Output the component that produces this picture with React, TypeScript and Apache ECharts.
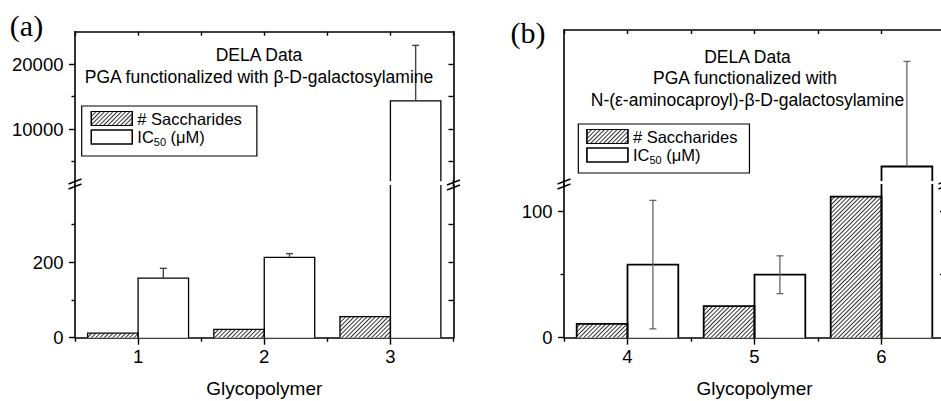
import React, { useEffect, useRef } from 'react';
import * as echarts from 'echarts';

// ---------- data ----------
const categoriesA = ['1', '2', '3'];
const categoriesB = ['4', '5', '6'];
const saccharidesA = [12, 22, 56];
const ic50A = [158, 213, 14350];
const ic50PlusA = [26, 10, 8550];
const ic50MinusA = [0, 0, 0];
const saccharidesB = [11, 25, 112];
const ic50B = [58, 50, 137];
const ic50PlusB = [51, 15, 87];
const ic50MinusB = [51, 15, 0];

// tick values
const labelsALow = [0, 200];
const minorALow = [100, 300];
const rightALow = [100, 200, 300];
const labelsAHigh = [10000, 20000];
const minorAHigh = [5000, 15000];
const rightAHigh = [5000, 10000, 15000, 20000];
const labelsBLow = [0, 100];
const minorBLow = [50];
const rightBLow = [50, 100];

// axis segment ranges
const rangeALow = [0, 405];
const rangeAHigh = [2000, 25000];
const rangeBLow = [0, 122];
const rangeBHigh = [125, 250];

const SACCH = '# Saccharides';
const IC50 = 'IC50 (μM)';
const FONT = 'Liberation Sans';

// ---------- helpers ----------
const black = '#000';

function catAxis(gridIndex: number, data: string[], position: string, kind: string) {
  const bottom = position === 'bottom';
  const main = kind === 'main';
  const ax: any = {
    type: 'category',
    gridIndex,
    data,
    position,
    boundaryGap: true,
    axisLine: { show: main, onZero: false, lineStyle: { color: black, width: 1.6 } },
    axisTick: {
      show: true,
      interval: 0,
      alignWithLabel: main,
      inside: !bottom,
      length: bottom && main ? 7 : 4,
      lineStyle: { color: black, width: 1.4 },
    },
    axisLabel: {
      show: bottom && main,
      interval: 0,
      color: black,
      fontSize: 18.5,
      fontFamily: FONT,
      margin: 9,
    },
    splitLine: { show: false },
    splitArea: { show: false },
  };
  if (bottom && main) {
    ax.name = 'Glycopolymer';
    ax.nameLocation = 'middle';
    ax.nameGap = 41;
    ax.nameTextStyle = { color: black, fontSize: 19, fontFamily: FONT };
  }
  return ax;
}

function valAxis(
  gridIndex: number,
  range: number[],
  position: string,
  line: boolean,
  ticks: number[] | null,
  tickLen: number,
  inside: boolean,
  labels: number[] | null
) {
  return {
    type: 'value',
    gridIndex,
    position,
    min: range[0],
    max: range[1],
    axisLine: { show: line, onZero: false, lineStyle: { color: black, width: 1.6 } },
    axisTick: ticks
      ? { show: true, customValues: ticks, inside, length: tickLen, lineStyle: { color: black, width: 1.4 } }
      : { show: false },
    axisLabel: labels
      ? {
          show: true,
          customValues: labels,
          formatter: (v: number) => String(v),
          color: black,
          fontSize: 18.5,
          fontFamily: FONT,
          margin: 11.5,
        }
      : { show: false },
    splitLine: { show: false },
    splitArea: { show: false },
  };
}

const hatchDecal = {
  symbol: 'rect',
  symbolSize: 1,
  dashArrayX: [1, 0],
  dashArrayY: [1, 2],
  rotation: -Math.PI / 4,
  color: '#333',
};
const noDecal = {
  symbol: 'rect',
  symbolSize: 1,
  dashArrayX: [1, 0],
  dashArrayY: [1, 3],
  color: 'rgba(0,0,0,0)',
};

// bar fill (no border; outline drawn by a custom series so that broken bars stay open)
function barSeries(name: string, data: number[], xi: number, yi: number, hatched: boolean) {
  return {
    type: 'bar',
    name,
    xAxisIndex: xi,
    yAxisIndex: yi,
    data,
    barGap: '0%',
    barCategoryGap: '20%',
    clip: true,
    silent: true,
    z: 2,
    itemStyle: {
      color: '#fff',
      borderWidth: 0,
      decal: hatched ? hatchDecal : noDecal,
    },
    emphasis: { disabled: true },
  };
}

function makeOutlineRender(slot: number, range: number[], lw: number) {
  return (params: any, api: any) => {
    const idx = api.value(0);
    const v = api.value(1);
    const lo = Math.max(Math.min(0, v), range[0]);
    const hi = Math.min(Math.max(0, v), range[1]);
    if (!(hi > lo)) return { type: 'group', children: [] };
    const band = api.size([1, 0])[0];
    const c = api.coord([idx, lo])[0];
    const x0 = c - band * 0.4 + slot * band * 0.4;
    const x1 = x0 + band * 0.4;
    const yLo = api.coord([idx, lo])[1];
    const yHi = api.coord([idx, hi])[1];
    const style = { stroke: black, lineWidth: lw, fill: 'none', lineJoin: 'miter' };
    if (v <= range[1]) {
      return {
        type: 'polyline',
        shape: { points: [[x0, yLo], [x0, yHi], [x1, yHi], [x1, yLo]] },
        style,
      };
    }
    return {
      type: 'group',
      children: [
        { type: 'line', shape: { x1: x0, y1: yLo, x2: x0, y2: yHi }, style },
        { type: 'line', shape: { x1: x1, y1: yLo, x2: x1, y2: yHi }, style },
      ],
    };
  };
}

function outlineSeries(slot: number, data: number[], xi: number, yi: number, range: number[], lw: number) {
  return {
    type: 'custom',
    xAxisIndex: xi,
    yAxisIndex: yi,
    silent: true,
    z: 3,
    encode: { x: 0, y: 1 },
    data: data.map((v, i) => [i, v]),
    renderItem: makeOutlineRender(slot, range, lw),
  };
}

function makeErrRender(range: number[], color: string, lw: number) {
  return (params: any, api: any) => {
    const idx = api.value(0);
    const v = api.value(1);
    const plus = api.value(2);
    const minus = api.value(3);
    const top = v + plus;
    const bot = v - minus;
    const lo = Math.max(bot, range[0]);
    const hi = Math.min(top, range[1]);
    if (!(hi > lo)) return { type: 'group', children: [] };
    const band = api.size([1, 0])[0];
    const x = api.coord([idx, v])[0] + band * 0.2;
    const yLo = api.coord([idx, lo])[1];
    const yHi = api.coord([idx, hi])[1];
    const cap = 3.5;
    const style = { stroke: color, lineWidth: lw };
    const children: any[] = [{ type: 'line', shape: { x1: x, y1: yLo, x2: x, y2: yHi }, style }];
    if (top <= range[1]) children.push({ type: 'line', shape: { x1: x - cap, y1: yHi, x2: x + cap, y2: yHi }, style });
    if (minus > 0 && bot >= range[0])
      children.push({ type: 'line', shape: { x1: x - cap, y1: yLo, x2: x + cap, y2: yLo }, style });
    return { type: 'group', children };
  };
}

function errSeries(xi: number, yi: number, vals: number[], plus: number[], minus: number[], range: number[], color: string, lw: number) {
  return {
    type: 'custom',
    xAxisIndex: xi,
    yAxisIndex: yi,
    silent: true,
    z: 5,
    encode: { x: 0, y: 1 },
    data: vals.map((v, i) => [i, v, plus[i], minus[i]]),
    renderItem: makeErrRender(range, color, lw),
  };
}

function txt(text: string, x: number, y: number, size: number, family = FONT) {
  return {
    type: 'text',
    x,
    y,
    z: 20,
    silent: true,
    style: {
      text,
      fill: black,
      fontSize: size,
      fontFamily: family,
      textAlign: 'center',
      textVerticalAlign: 'middle',
      align: 'center',
      verticalAlign: 'middle',
    },
  };
}

function ln(x1: number, y1: number, x2: number, y2: number, w = 1.6) {
  return { type: 'line', z: 30, silent: true, shape: { x1, y1, x2, y2 }, style: { stroke: black, lineWidth: w } };
}

function breakMarks(x: number, yc: number) {
  return [
    ln(x - 6.5, yc - 2.5 + 2.5, x + 6.5, yc - 2.5 - 2.5, 1.4),
    ln(x - 6.5, yc + 2.5 + 2.5, x + 6.5, yc + 2.5 - 2.5, 1.4),
  ];
}

function legendCfg(left: number, top: number, padding: number[]) {
  return {
    left,
    top,
    orient: 'vertical',
    itemWidth: 41,
    itemHeight: 14,
    itemGap: 0,
    padding,
    borderColor: black,
    borderWidth: 1.2,
    backgroundColor: '#fff',
    selectedMode: false,
    icon: 'rect',
    itemStyle: { borderColor: black, borderWidth: 1.2 },
    data: [SACCH, IC50],
    formatter: (name: string) => (name === IC50 ? '{n|IC}{s|50}{n| (μM)}' : '{n|' + name + '}'),
    textStyle: {
      color: black,
      fontSize: 16.5,
      fontFamily: FONT,
      rich: {
        n: { color: black, fontSize: 16.5, fontFamily: FONT, lineHeight: 20 },
        s: { color: black, fontSize: 11, fontFamily: FONT, lineHeight: 11, padding: [9, 0, 0, 0] },
      },
    },
  };
}

// ---------- layout ----------
const A = { left: 75, width: 378.5 };
const B = { left: 564, width: 381 };

const option: any = {
  animation: false,
  backgroundColor: '#fff',
  aria: { enabled: true, label: { enabled: false }, decal: { show: true } },
  grid: [
    { left: A.left, width: A.width, top: 185, height: 152.7, outerBoundsMode: 'none', containLabel: false },
    { left: A.left, width: A.width, top: 31.7, height: 149.5, outerBoundsMode: 'none', containLabel: false },
    { left: B.left, width: B.width, top: 184, height: 153.7, outerBoundsMode: 'none', containLabel: false },
    { left: B.left, width: B.width, top: 30, height: 151, outerBoundsMode: 'none', containLabel: false },
  ],
  xAxis: [
    catAxis(0, categoriesA, 'bottom', 'main'), // 0
    catAxis(0, categoriesA, 'bottom', 'minor'), // 1
    catAxis(1, categoriesA, 'top', 'main'), // 2
    catAxis(1, categoriesA, 'top', 'minor'), // 3
    catAxis(2, categoriesB, 'bottom', 'main'), // 4
    catAxis(2, categoriesB, 'bottom', 'minor'), // 5
    catAxis(3, categoriesB, 'top', 'main'), // 6
    catAxis(3, categoriesB, 'top', 'minor'), // 7
  ],
  yAxis: [
    valAxis(0, rangeALow, 'left', true, labelsALow, 6, false, labelsALow), // 0
    valAxis(0, rangeALow, 'left', false, minorALow, 3.5, false, null), // 1
    valAxis(0, rangeALow, 'right', true, rightALow, 5, true, null), // 2
    valAxis(1, rangeAHigh, 'left', true, labelsAHigh, 6, false, labelsAHigh), // 3
    valAxis(1, rangeAHigh, 'left', false, minorAHigh, 3.5, false, null), // 4
    valAxis(1, rangeAHigh, 'right', true, rightAHigh, 5, true, null), // 5
    valAxis(2, rangeBLow, 'left', true, labelsBLow, 6, false, labelsBLow), // 6
    valAxis(2, rangeBLow, 'left', false, minorBLow, 3.5, false, null), // 7
    valAxis(2, rangeBLow, 'right', true, rightBLow, 5, true, null), // 8
    valAxis(3, rangeBHigh, 'left', true, null, 0, false, null), // 9
    valAxis(3, rangeBHigh, 'right', true, null, 0, true, null), // 10
  ],
  legend: [legendCfg(81.7, 106, [4, 15, 9, 9]), legendCfg(578.3, 124, [4, 12, 8, 8])],
  series: [
    // panel (a), lower segment
    barSeries(SACCH, saccharidesA, 0, 0, true),
    barSeries(IC50, ic50A, 0, 0, false),
    outlineSeries(0, saccharidesA, 0, 0, rangeALow, 1.3),
    outlineSeries(1, ic50A, 0, 0, rangeALow, 1.3),
    errSeries(0, 0, ic50A, ic50PlusA, ic50MinusA, rangeALow, '#444', 1.4),
    // panel (a), upper segment
    barSeries(SACCH, saccharidesA, 2, 3, true),
    barSeries(IC50, ic50A, 2, 3, false),
    outlineSeries(0, saccharidesA, 2, 3, rangeAHigh, 1.3),
    outlineSeries(1, ic50A, 2, 3, rangeAHigh, 1.3),
    errSeries(2, 3, ic50A, ic50PlusA, ic50MinusA, rangeAHigh, '#444', 1.4),
    // panel (b), lower segment
    barSeries(SACCH, saccharidesB, 4, 6, true),
    barSeries(IC50, ic50B, 4, 6, false),
    outlineSeries(0, saccharidesB, 4, 6, rangeBLow, 1.8),
    outlineSeries(1, ic50B, 4, 6, rangeBLow, 1.8),
    errSeries(4, 6, ic50B, ic50PlusB, ic50MinusB, rangeBLow, '#666', 1.3),
    // panel (b), upper segment
    barSeries(SACCH, saccharidesB, 6, 9, true),
    barSeries(IC50, ic50B, 6, 9, false),
    outlineSeries(0, saccharidesB, 6, 9, rangeBHigh, 1.8),
    outlineSeries(1, ic50B, 6, 9, rangeBHigh, 1.8),
    errSeries(6, 9, ic50B, ic50PlusB, ic50MinusB, rangeBHigh, '#666', 1.3),
  ],
  graphic: {
    elements: [
      // axis lines continue across the break
      ln(A.left, 180, A.left, 186.5),
      ln(A.left + A.width, 180, A.left + A.width, 186.5),
      ln(B.left, 179.5, B.left, 185.5),
      ln(B.left + B.width, 179.5, B.left + B.width, 185.5),
      ...breakMarks(A.left, 184),
      ...breakMarks(A.left + A.width, 185),
      ...breakMarks(B.left, 184),
      ...breakMarks(B.left + B.width, 184),
      // titles
      txt('DELA Data', 259, 55, 17.5),
      txt('PGA functionalized with β-D-galactosylamine', 259, 77, 17.5),
      txt('DELA Data', 747.5, 56.5, 17.5),
      txt('PGA functionalized with', 745, 78.3, 17.5),
      txt('N-(ε-aminocaproyl)-β-D-galactosylamine', 747.5, 100, 17.5),
      txt('(a)', 26.5, 25, 30, 'Liberation Serif'),
      txt('(b)', 528, 32.5, 30, 'Liberation Serif'),
    ],
  },
};

export default function App() {
  const ref = useRef<HTMLDivElement>(null);
  useEffect(() => {
    if (!ref.current) return;
    const chart = echarts.init(ref.current, undefined, { renderer: 'svg' });
    chart.setOption(option);
    return () => chart.dispose();
  }, []);
  return (
    <div
      ref={ref}
      style={{ position: 'fixed', left: 0, top: 0, width: 941, height: 401, background: '#fff' }}
    />
  );
}
